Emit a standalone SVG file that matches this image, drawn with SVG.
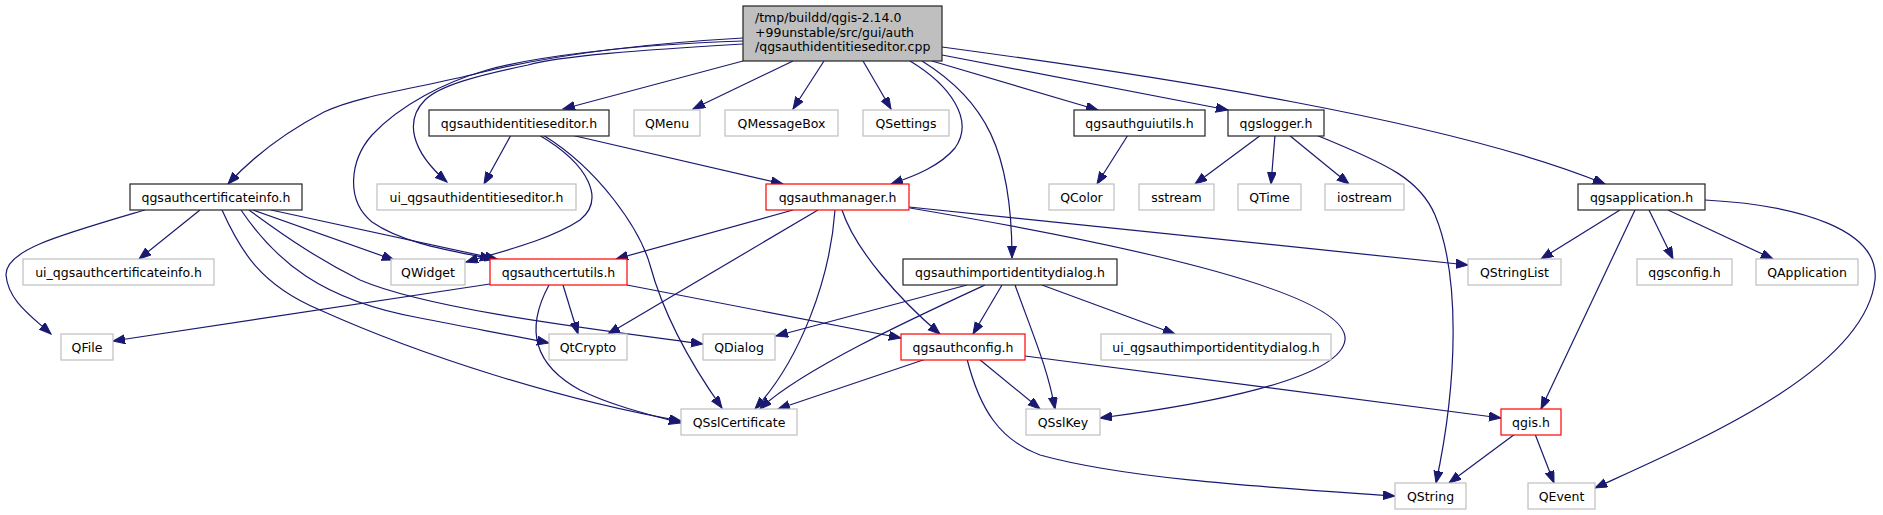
<svg xmlns="http://www.w3.org/2000/svg" width="1883" height="515" viewBox="0 0 1883 515">
<style>
.n rect{fill:#fff;stroke-width:1.2}
.k rect{stroke:#222}
.g rect{stroke:#bfbfbf}
.r rect{stroke:#ff0000}
text{font-family:"DejaVu Sans","Liberation Sans",sans-serif;font-size:12.5px;fill:#000}
.n text{text-anchor:middle}
#edges path{fill:none;stroke:#191970;stroke-width:1.2;marker-end:url(#a)}
</style>
<defs>
<marker id="a" markerWidth="13" markerHeight="10" refX="12" refY="4.5" orient="auto" markerUnits="userSpaceOnUse">
<path d="M0,0 L12,4.5 L0,9 z" fill="#191970" stroke="#191970" stroke-width="1"/>
</marker>
</defs>
<rect width="1883" height="515" fill="#fff"/>
<g id="edges">
<path d="M743,61 L563,109"/>
<path d="M793,61 L693,109"/>
<path d="M824,61 L793,109"/>
<path d="M863,61 L891,109"/>
<path d="M910,61 C950,85 975,120 955,148 C940,166 915,176 891,184"/>
<path d="M922,61 C985,100 1012,150 1012,258"/>
<path d="M932,61 L1098,110"/>
<path d="M942,55 L1228,110"/>
<path d="M942,47 C1150,75 1450,120 1605,184"/>
<path d="M743,38 C620,45 540,58 479,73 C420,88 360,95 324,112 C280,135 250,160 228,184"/>
<path d="M743,44 C640,50 560,56 528,65 C480,75 440,85 425,100 C405,120 410,150 447,182"/>
<path d="M743,41 C620,45 530,58 487,70 C445,82 400,105 372,135 C350,160 345,200 372,222 C405,245 460,252 492,259"/>
<path d="M511,135 L484,184"/>
<path d="M539,135 C590,165 605,200 580,220 C550,240 500,252 466,262"/>
<path d="M543,135 C600,170 640,230 650,265 C665,320 695,370 722,408"/>
<path d="M571,135 L783,184"/>
<path d="M145,210 C60,235 5,250 6,275 C8,300 30,315 51,334"/>
<path d="M200,210 L139,259"/>
<path d="M222,210 C240,250 260,285 320,310 C420,355 560,400 681,421"/>
<path d="M241,210 C275,260 320,300 420,318 C470,328 510,335 549,343"/>
<path d="M249,210 C290,240 320,260 360,280 C430,310 600,330 703,344"/>
<path d="M253,210 L394,260"/>
<path d="M271,210 L497,259"/>
<path d="M793,210 L616,259"/>
<path d="M818,210 L608,334"/>
<path d="M835,210 C830,280 800,360 755,409"/>
<path d="M842,210 C855,250 900,300 940,334"/>
<path d="M909,207 L1468,265"/>
<path d="M910,208 C1100,240 1350,290 1345,340 C1340,380 1200,405 1100,418"/>
<path d="M967,285 L776,336"/>
<path d="M985,285 C920,315 800,370 760,409"/>
<path d="M1002,285 L973,334"/>
<path d="M1015,285 C1035,340 1048,370 1055,409"/>
<path d="M1042,285 L1175,334"/>
<path d="M926,359 L778,409"/>
<path d="M979,359 L1040,409"/>
<path d="M967,359 C980,410 1000,440 1040,455 C1130,480 1280,488 1395,496"/>
<path d="M1025,356 L1501,418"/>
<path d="M1515,434 L1449,483"/>
<path d="M1535,434 L1554,483"/>
<path d="M1620,210 L1541,259"/>
<path d="M1635,210 L1541,409"/>
<path d="M1649,210 L1673,259"/>
<path d="M1668,210 L1773,259"/>
<path d="M1705,200 C1800,205 1880,230 1875,280 C1865,370 1700,440 1595,488"/>
<path d="M1261,135 L1195,184"/>
<path d="M1275,135 L1271,184"/>
<path d="M1289,135 L1349,184"/>
<path d="M1316,135 C1390,165 1420,180 1435,215 C1460,275 1458,380 1436,483"/>
<path d="M1128,135 L1097,184"/>
<path d="M490,284 L113,341"/>
<path d="M563,285 L578,334"/>
<path d="M549,285 C530,320 525,360 580,390 C610,405 650,415 681,423"/>
<path d="M627,285 L901,338"/>
</g>
<g id="main" class="n k"><rect x="743" y="6" width="199" height="55" style="fill:#bfbfbf"/>
<text x="755" y="22" style="text-anchor:start">/tmp/buildd/qgis-2.14.0</text>
<text x="755" y="36.5" style="text-anchor:start">+99unstable/src/gui/auth</text>
<text x="755" y="51" style="text-anchor:start">/qgsauthidentitieseditor.cpp</text></g>
<g id="n_ide" class="n k"><rect x="429" y="110" width="180" height="26"/><text x="519" y="127.5">qgsauthidentitieseditor.h</text></g>
<g id="n_qmenu" class="n g"><rect x="634" y="110" width="66" height="26"/><text x="667" y="127.5">QMenu</text></g>
<g id="n_qmsg" class="n g"><rect x="725" y="110" width="113" height="26"/><text x="781.5" y="127.5">QMessageBox</text></g>
<g id="n_qset" class="n g"><rect x="863" y="110" width="86" height="26"/><text x="906" y="127.5">QSettings</text></g>
<g id="n_gui" class="n k"><rect x="1074" y="110" width="131" height="26"/><text x="1139.5" y="127.5">qgsauthguiutils.h</text></g>
<g id="n_logger" class="n k"><rect x="1228" y="110" width="96" height="26"/><text x="1276" y="127.5">qgslogger.h</text></g>
<g id="n_certinfo" class="n k"><rect x="130" y="184" width="172" height="26"/><text x="216" y="201.5">qgsauthcertificateinfo.h</text></g>
<g id="n_uiide" class="n g"><rect x="377" y="184" width="199" height="26"/><text x="476.5" y="201.5">ui_qgsauthidentitieseditor.h</text></g>
<g id="n_manager" class="n r"><rect x="766" y="184" width="143" height="26"/><text x="837.5" y="201.5">qgsauthmanager.h</text></g>
<g id="n_qcolor" class="n g"><rect x="1049" y="184" width="65" height="26"/><text x="1081.5" y="201.5">QColor</text></g>
<g id="n_sstream" class="n g"><rect x="1139" y="184" width="75" height="26"/><text x="1176.5" y="201.5">sstream</text></g>
<g id="n_qtime" class="n g"><rect x="1238" y="184" width="63" height="26"/><text x="1269.5" y="201.5">QTime</text></g>
<g id="n_iostream" class="n g"><rect x="1325" y="184" width="79" height="26"/><text x="1364.5" y="201.5">iostream</text></g>
<g id="n_app" class="n k"><rect x="1578" y="184" width="127" height="26"/><text x="1641.5" y="201.5">qgsapplication.h</text></g>
<g id="n_uicert" class="n g"><rect x="23" y="259" width="191" height="26"/><text x="118.5" y="276.5">ui_qgsauthcertificateinfo.h</text></g>
<g id="n_qwidget" class="n g"><rect x="391" y="259" width="74" height="26"/><text x="428" y="276.5">QWidget</text></g>
<g id="n_certutils" class="n r"><rect x="490" y="259" width="137" height="26"/><text x="558.5" y="276.5">qgsauthcertutils.h</text></g>
<g id="n_import" class="n k"><rect x="903" y="259" width="214" height="26"/><text x="1010" y="276.5">qgsauthimportidentitydialog.h</text></g>
<g id="n_qsl" class="n g"><rect x="1468" y="259" width="93" height="26"/><text x="1514.5" y="276.5">QStringList</text></g>
<g id="n_qgsconfig" class="n g"><rect x="1637" y="259" width="95" height="26"/><text x="1684.5" y="276.5">qgsconfig.h</text></g>
<g id="n_qapp" class="n g"><rect x="1756" y="259" width="102" height="26"/><text x="1807" y="276.5">QApplication</text></g>
<g id="n_qfile" class="n g"><rect x="61" y="334" width="52" height="26"/><text x="87" y="351.5">QFile</text></g>
<g id="n_qtcrypto" class="n g"><rect x="549" y="334" width="78" height="26"/><text x="588" y="351.5">QtCrypto</text></g>
<g id="n_qdialog" class="n g"><rect x="703" y="334" width="72" height="26"/><text x="739" y="351.5">QDialog</text></g>
<g id="n_config" class="n r"><rect x="901" y="334" width="124" height="26"/><text x="963" y="351.5">qgsauthconfig.h</text></g>
<g id="n_uiimport" class="n g"><rect x="1101" y="334" width="230" height="26"/><text x="1216" y="351.5">ui_qgsauthimportidentitydialog.h</text></g>
<g id="n_qsslcert" class="n g"><rect x="681" y="409" width="116" height="26"/><text x="739" y="426.5">QSslCertificate</text></g>
<g id="n_qsslkey" class="n g"><rect x="1026" y="409" width="74" height="26"/><text x="1063" y="426.5">QSslKey</text></g>
<g id="n_qgis" class="n r"><rect x="1501" y="409" width="60" height="26"/><text x="1531" y="426.5">qgis.h</text></g>
<g id="n_qstring" class="n g"><rect x="1395" y="483" width="71" height="26"/><text x="1430.5" y="500.5">QString</text></g>
<g id="n_qevent" class="n g"><rect x="1528" y="483" width="67" height="26"/><text x="1561.5" y="500.5">QEvent</text></g>
</svg>
